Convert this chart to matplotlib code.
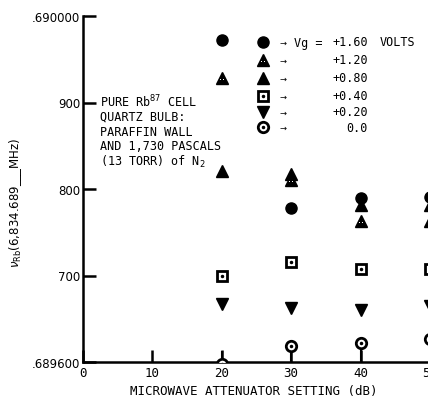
#!/usr/bin/env python3
"""Rb87 cell frequency vs microwave attenuator setting for several Vg values."""

import matplotlib

matplotlib.use("Agg")
import matplotlib.pyplot as plt

# attenuator settings (dB)
atten_db = [20, 30, 40, 50]

# frequency readings (MHz fraction after 6,834.)
vg_160 = [0.689972, 0.689778, 0.689790, 0.689791]
vg_120 = [0.689928, 0.689810, 0.689763, 0.689763]
vg_080 = [0.689821, 0.689817, 0.689782, 0.689782]
vg_040 = [0.689700, 0.689716, 0.689707, 0.689707]
vg_020 = [0.689667, 0.689662, 0.689660, 0.689665]
vg_000 = [0.689598, 0.689619, 0.689622, 0.689627]

x_ticks = [0, 10, 20, 30, 40, 50]
y_ticks = [0.6896, 0.6897, 0.6898, 0.6899, 0.6900]
y_tick_labels = [".689600", "700", "800", "900", ".690000"]

legend_values = ["+1.60", "+1.20", "+0.80", "+0.40", "+0.20", "0.0"]

W, H = 428, 402
MONO = "DejaVu Sans Mono"


def px(x, y):
    return x / W, 1 - y / H


fig = plt.figure(figsize=(W / 100, H / 100), dpi=100)
fig.patch.set_facecolor("white")

# axis from x=0 (px 83) to x=50 (px 430); extends past the right edge
left, bottom, top = 83, 363, 17
px_per_db = (430 - 83) / 50.0
x_max = 54
ax = fig.add_axes([left / W, 1 - bottom / H, x_max * px_per_db / W, (bottom - top) / H])
ax.set_xlim(0, x_max)
ax.set_ylim(0.6896, 0.6900)

for side in ("top", "right"):
    ax.spines[side].set_visible(False)
for side in ("left", "bottom"):
    ax.spines[side].set_linewidth(1.8)

ax.set_xticks(x_ticks)
ax.set_xticklabels([str(v) for v in x_ticks], family=MONO, fontsize=9)
ax.set_yticks(y_ticks)
ax.set_yticklabels(y_tick_labels, fontsize=8.5)
ax.tick_params(axis="both", direction="in", length=9, width=1.8, pad=3)
ax.tick_params(axis="y", pad=2)

# stems for the Vg = 0.0 readings
ax.vlines(atten_db, 0.6896, vg_000, color="black", linewidth=1.5, zorder=2)
ax.vlines([20], 0.6896, [0.689613], color="black", linewidth=1.5, zorder=2)

ms = 8
tri = 8.5
dots = dict(marker=r"$\therefore$", ls="none", color="white", mew=0, ms=3.5)
ax.plot(atten_db, vg_160, "o", color="black", ms=ms, zorder=3)
ax.plot(atten_db, vg_080, "^", color="black", ms=tri, zorder=3)
ax.plot(atten_db, vg_120, "^", color="black", ms=tri, zorder=4)
ax.plot(atten_db, vg_120, zorder=5, **dots)
ax.plot(atten_db, vg_040, "s", mfc="white", mec="black", mew=2.0, ms=7, zorder=3)
ax.plot(atten_db, vg_040, ".", color="black", ms=3, zorder=4)
ax.plot(atten_db, vg_020, "v", color="black", ms=tri, zorder=3)
ax.plot(atten_db, vg_000, "o", mfc="white", mec="black", mew=2.0, ms=7.5, zorder=3)
ax.plot(atten_db, vg_000, ".", color="black", ms=3, zorder=4)

# axis labels
fig.text(*px(254, 392), "MICROWAVE ATTENUATOR SETTING (dB)", family=MONO, fontsize=9,
         ha="center", va="center")
fig.text(*px(16, 203), r"$\nu_{\rm Rb}$(6,834.689___MHz)", fontsize=8.5, rotation=90,
         ha="center", va="center")

# cell description
note_lines = [
    r"PURE Rb$^{87}$ CELL",
    "QUARTZ BULB:",
    "PARAFFIN WALL",
    "AND 1,730 PASCALS",
    r"(13 TORR) of N$_2$",
]
for i, line in enumerate(note_lines):
    fig.text(*px(100, 102 + i * 15), line, family=MONO, fontsize=8.5, ha="left", va="center")

# legend drawn by hand
leg_rows = [43, 61, 79, 97, 113, 128]
leg_x = 263
styles = [
    dict(marker="o", color="black", ms=ms),
    dict(marker="^", color="black", ms=tri),
    dict(marker="^", color="black", ms=tri),
    dict(marker="s", mfc="white", mec="black", mew=2.0, ms=7),
    dict(marker="v", color="black", ms=tri),
    dict(marker="o", mfc="white", mec="black", mew=2.0, ms=7.5),
]
for i, (row, style, value) in enumerate(zip(leg_rows, styles, legend_values)):
    fx, fy = px(leg_x, row)
    ax.plot([fx], [fy], ls="none", transform=fig.transFigure, clip_on=False, **style)
    if i == 1:
        ax.plot([fx], [fy], transform=fig.transFigure, clip_on=False, **dots)
    if i in (3, 5):
        ax.plot([fx], [fy], ".", color="black", ms=3, transform=fig.transFigure, clip_on=False)
    fig.text(*px(283, row), "\u2192", fontsize=6, ha="center", va="center")
    fig.text(*px(368, row), value, family=MONO, fontsize=8.5, ha="right", va="center")

fig.text(*px(294, leg_rows[0]), "Vg =", family=MONO, fontsize=8.5, ha="left", va="center")
fig.text(*px(380, leg_rows[0]), "VOLTS", family=MONO, fontsize=8.5, ha="left", va="center")

fig.savefig("out.png", dpi=100)
plt.close(fig)
